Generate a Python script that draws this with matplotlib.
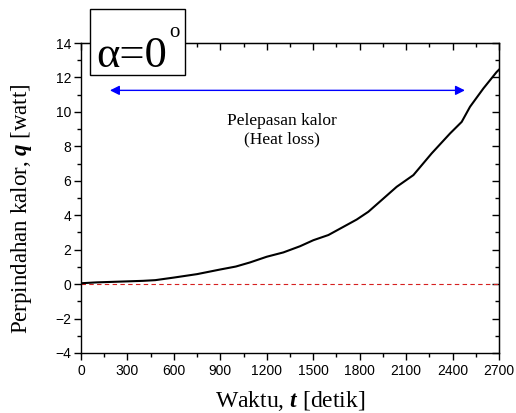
import matplotlib
matplotlib.use("Agg")
import matplotlib.pyplot as plt
from matplotlib.patches import Rectangle
from matplotlib.ticker import MultipleLocator

plt.rcParams["mathtext.fontset"] = "custom"
plt.rcParams["mathtext.rm"] = "Liberation Serif"
plt.rcParams["mathtext.it"] = "Liberation Serif:italic"
plt.rcParams["mathtext.bf"] = "Liberation Serif:bold"
plt.rcParams["mathtext.bfit"] = "Liberation Serif:bold:italic"

# Data
t = [0, 100, 200, 300, 400, 480, 600, 750, 900, 1000, 1092, 1200, 1307, 1415,
     1501, 1598, 1716, 1781, 1856, 1942, 2039, 2147, 2265, 2384, 2459, 2513,
     2599, 2685, 2700]
q = [0.05, 0.10, 0.13, 0.16, 0.19, 0.23, 0.38, 0.58, 0.85, 1.02, 1.26, 1.59,
     1.84, 2.2, 2.55, 2.85, 3.43, 3.75, 4.2, 4.88, 5.65, 6.33, 7.59, 8.75,
     9.42, 10.3, 11.36, 12.32, 12.45]
arrow_y = 11.25
arrow_x = [187, 2480]
xticks = [0, 300, 600, 900, 1200, 1500, 1800, 2100, 2400, 2700]
yticks = [-4, -2, 0, 2, 4, 6, 8, 10, 12, 14]

serif = "Liberation Serif"
sans = "Liberation Sans"

fig = plt.figure(figsize=(5.16, 4.13), dpi=100)
ax = fig.add_axes([81/516, 1-353/413, 418/516, 310/413])

ax.axhline(0, color="#d62020", lw=0.8, ls=(0, (4, 3)), zorder=1)
ax.plot(t, q, color="black", lw=1.5, zorder=3)

ax.annotate("", xy=(arrow_x[0], arrow_y), xytext=(arrow_x[1], arrow_y),
            arrowprops=dict(arrowstyle="<|-|>", color="#0000ff", lw=1.0,
                            mutation_scale=14, shrinkA=0, shrinkB=0))
ax.text(1300, 8.95, "Pelepasan kalor\n(Heat loss)", ha="center", va="center",
        fontsize=12.5, family=serif, linespacing=1.2)

ax.set_xlim(0, 2700)
ax.set_ylim(-4, 14)
ax.set_xticks(xticks)
ax.set_yticks(yticks)
ax.xaxis.set_minor_locator(MultipleLocator(150))
ax.yaxis.set_minor_locator(MultipleLocator(1))
ax.tick_params(which="both", direction="out", labelsize=10, width=1)
ax.tick_params(which="major", length=5)
ax.tick_params(which="minor", length=3)
ax.tick_params(axis="x", pad=3)
ax.tick_params(axis="y", pad=2)
for lab in ax.get_xticklabels() + ax.get_yticklabels():
    lab.set_family(sans)
for s in ax.spines.values():
    s.set_linewidth(1.0)

# top/right inward ticks
axt = ax.secondary_xaxis("top")
axt.set_xticks(xticks)
axt.xaxis.set_minor_locator(MultipleLocator(150))
axt.tick_params(which="both", direction="in", labeltop=False, width=1)
axt.tick_params(which="major", length=5)
axt.tick_params(which="minor", length=3)
axr = ax.secondary_yaxis("right")
axr.set_yticks(yticks)
axr.yaxis.set_minor_locator(MultipleLocator(1))
axr.tick_params(which="both", direction="in", labelright=False, width=1)
axr.tick_params(which="major", length=5)
axr.tick_params(which="minor", length=3)

fig.text(290/516, 1-401/413,
         r"Waktu, $\mathbfit{t}$ [detik]", ha="center", va="center",
         fontsize=17, family=serif)
fig.text(22/516, 1-209/413,
         r"Perpindahan kalor, $\mathbfit{q}$ [watt]", ha="center", va="center",
         rotation=90, fontsize=16.5, family=serif)

fig.patches.append(Rectangle((90/516, 1-75/413), 95/516, 66/413,
                             transform=fig.transFigure, fill=True,
                             facecolor="white", edgecolor="black", lw=1.0,
                             zorder=5))
fig.text(96/516, 1-67/413, "α=0", ha="left", va="baseline", fontsize=32,
         family=serif, zorder=6)
fig.text(169/516, 1-37/413, "o", ha="left", va="baseline", fontsize=15,
         family=serif, zorder=6)

fig.savefig("out.png", dpi=100)
